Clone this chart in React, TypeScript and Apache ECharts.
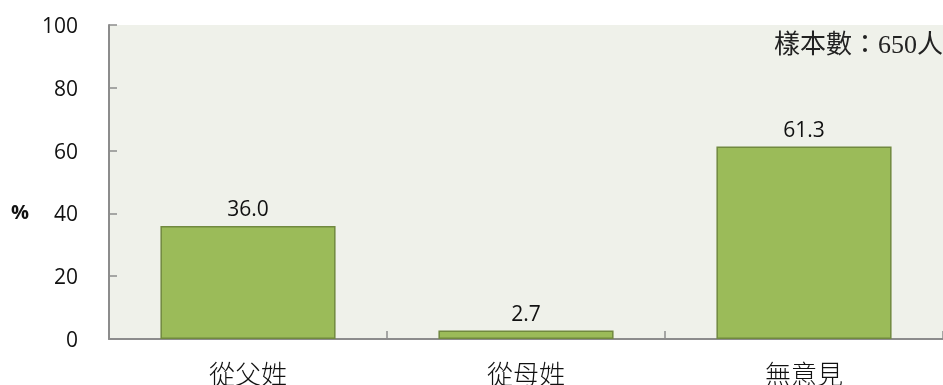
import React, { useEffect, useRef } from "react";
import * as echarts from "echarts";

const categories = ["從父姓", "從母姓", "無意見"];
const values = [36.0, 2.7, 61.3];
const yTicks = [0, 20, 40, 60, 80, 100];
const sampleNote = "樣本數：650人";
const yUnit = "%";

export default function App() {
  const ref = useRef<HTMLDivElement>(null);
  useEffect(() => {
    const chart = echarts.init(ref.current!, null, { renderer: "svg" });
    chart.setOption({
      animation: false,
      grid: { left: 109, right: 0, top: 25, bottom: 45, show: true, backgroundColor: "#EFF1EA", borderWidth: 0 },
      xAxis: {
        type: "category",
        data: categories,
        axisLine: { lineStyle: { color: "#8C8C8C", width: 2 } },
        axisTick: { show: true, inside: true, length: 8, lineStyle: { color: "#8C8C8C", width: 1.5 } },
        axisLabel: { color: "#111", fontSize: 26, fontFamily: "Noto Sans CJK TC", fontWeight: 300, margin: 20 },
      },
      yAxis: {
        type: "value",
        min: yTicks[0],
        max: yTicks[yTicks.length - 1],
        interval: 20,
        axisLine: { show: true, lineStyle: { color: "#8C8C8C", width: 2 } },
        axisTick: { show: true, inside: true, length: 8, lineStyle: { color: "#8C8C8C", width: 1.5 } },
        splitLine: { show: false },
        axisLabel: { color: "#111", fontSize: 21, fontFamily: "Open Sans", margin: 31 },
      },
      graphic: [
        { type: "text", left: 11, top: 201, style: { text: yUnit, fontSize: 20, fontWeight: "bold", fontFamily: "Open Sans", fill: "#111" } },
        { type: "text", right: 0, top: 31, style: { text: sampleNote, fontSize: 26, fontFamily: "Liberation Serif, Noto Sans CJK TC", fill: "#222" } },
      ],
      series: [
        {
          type: "bar",
          data: values,
          barWidth: "63%",
          itemStyle: { color: "#9BBB59", borderColor: "#71893F", borderWidth: 1.5 },
          label: {
            show: true,
            position: "top",
            distance: 7,
            formatter: (p: any) => Number(p.value).toFixed(1),
            fontSize: 21,
            fontFamily: "Open Sans",
            color: "#111",
          },
        },
      ],
    });
    return () => chart.dispose();
  }, []);
  return <div ref={ref} style={{ position: "fixed", left: 0, top: 0, width: 943, height: 385 }} />;
}
